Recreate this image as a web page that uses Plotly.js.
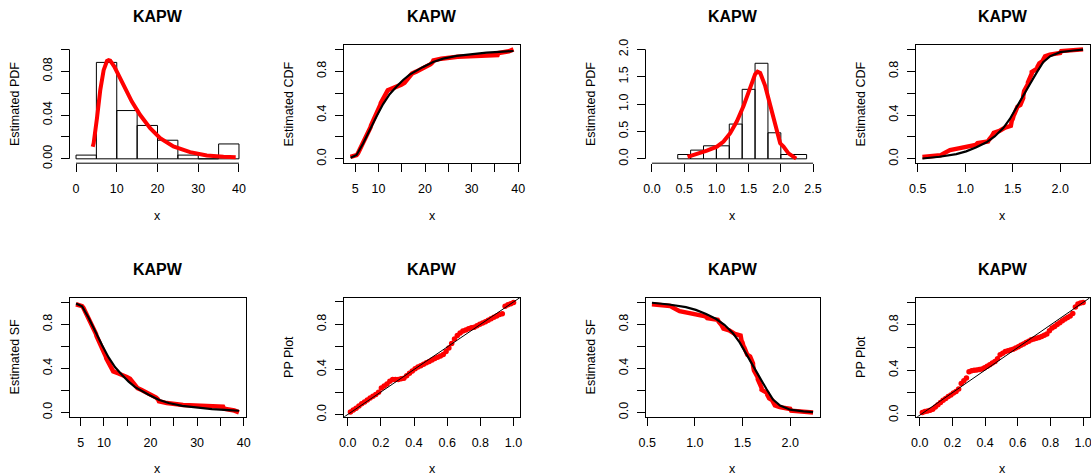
<!DOCTYPE html>
<html><head><meta charset="utf-8">
<script src="https://cdn.plot.ly/plotly-3.0.1.min.js"></script>
<style>html,body{margin:0;padding:0;background:#fff;} #chart{width:1091px;height:476px;}</style>
</head><body><div id="chart"></div>
<script>
// ---------------- DATA ----------------
// Dataset A (n = 59): histogram
const histABreaks = [0, 5, 10, 15, 20, 25, 30, 35, 40];
const histADensity = [0.0034, 0.0881, 0.0441, 0.0305, 0.0170, 0.0034, 0.0, 0.0136];
// fitted PDF curve (read)
const pdfAX = [4.1, 4.33, 5.14, 5.96, 6.78, 7.6, 8.0, 8.4, 9.4, 10.2, 11.7, 13.7, 15.75, 18.2, 20.65, 23.9, 28.0, 32.1, 36.2, 39.2];
const pdfAY = [0.0110, 0.0143, 0.0370, 0.0630, 0.0810, 0.0894, 0.0902, 0.0897, 0.0843, 0.0780, 0.0660, 0.0523, 0.0400, 0.0280, 0.0189, 0.0113, 0.0061, 0.0030, 0.0018, 0.0015];
// sorted observations and empirical CDF
const obsA = [4.0,5.3,5.6,5.8,6.1,6.3,6.5,6.7,6.9,7.1,7.3,7.4,7.6,7.8,8.0,8.2,8.3,8.4,8.6,8.8,8.9,9.1,9.2,9.4,9.6,9.8,10.0,10.2,10.4,10.5,10.7,10.9,11.1,11.2,11.4,11.7,12.0,13.0,14.2,14.9,15.6,15.9,16.2,16.5,16.8,17.2,18.1,19.0,19.8,20.5,21.2,21.6,21.8,23.5,27.0,35.6,35.8,38.0,39.0];
const ecdfA = [0.0169,0.0339,0.0508,0.0678,0.0847,0.1017,0.1186,0.1356,0.1525,0.1695,0.1864,0.2034,0.2203,0.2373,0.2542,0.2712,0.2881,0.3051,0.3220,0.3390,0.3559,0.3729,0.3898,0.4068,0.4237,0.4407,0.4576,0.4746,0.4915,0.5085,0.5254,0.5424,0.5593,0.5763,0.5932,0.6102,0.6271,0.6441,0.6610,0.6780,0.6949,0.7119,0.7288,0.7458,0.7627,0.7797,0.7966,0.8136,0.8305,0.8475,0.8644,0.8814,0.8983,0.9153,0.9322,0.9492,0.9661,0.9831,1.0];
// fitted CDF curve (read)
const cdfAX = [4.0, 5.3, 6.7, 8.15, 9.6, 11.0, 12.4, 13.9, 15.3, 16.7, 18.2, 19.6, 21.75, 23.9, 26.8, 29.6, 33.2, 36.8, 39.0];
const cdfAY = [0.010, 0.035, 0.140, 0.270, 0.390, 0.500, 0.590, 0.660, 0.720, 0.770, 0.810, 0.840, 0.885, 0.915, 0.940, 0.955, 0.970, 0.980, 0.985];
// PP plot: fitted CDF at each observation (read)
const ppAY = [0.022,0.040,0.056,0.077,0.096,0.112,0.129,0.146,0.162,0.178,0.197,0.235,0.253,0.271,0.296,0.311,0.311,0.312,0.317,0.323,0.344,0.367,0.387,0.406,0.422,0.434,0.446,0.459,0.472,0.484,0.497,0.509,0.521,0.534,0.560,0.590,0.632,0.670,0.703,0.724,0.741,0.751,0.761,0.770,0.775,0.788,0.801,0.814,0.825,0.837,0.850,0.863,0.875,0.888,0.895,0.962,0.975,0.985,0.995];

// Dataset G (n = 63): histogram
const histGBreaks = [0.4, 0.6, 0.8, 1.0, 1.2, 1.4, 1.6, 1.8, 2.0, 2.2, 2.4];
const histGDensity = [0.079, 0.159, 0.238, 0.238, 0.635, 1.270, 1.746, 0.476, 0.079, 0.079];
const pdfGX = [0.553, 0.698, 0.853, 1.008, 1.111, 1.214, 1.318, 1.421, 1.525, 1.602, 1.638, 1.680, 1.757, 1.835, 1.912, 1.990, 2.041, 2.119, 2.238];
const pdfGY = [0.037, 0.086, 0.148, 0.222, 0.315, 0.469, 0.685, 0.963, 1.302, 1.549, 1.593, 1.568, 1.333, 0.963, 0.593, 0.284, 0.222, 0.099, 0.005];
const obsG = [0.55,0.74,0.77,0.81,0.84,0.93,1.04,1.11,1.13,1.24,1.25,1.27,1.28,1.29,1.30,1.36,1.39,1.42,1.48,1.48,1.49,1.49,1.50,1.50,1.51,1.52,1.53,1.54,1.55,1.55,1.58,1.59,1.60,1.61,1.61,1.61,1.61,1.62,1.62,1.63,1.64,1.66,1.66,1.66,1.67,1.68,1.68,1.69,1.70,1.70,1.73,1.76,1.76,1.77,1.78,1.81,1.82,1.84,1.84,1.89,2.00,2.01,2.24];
const ecdfG = [0.0159,0.0317,0.0476,0.0635,0.0794,0.0952,0.1111,0.1270,0.1429,0.1587,0.1746,0.1905,0.2063,0.2222,0.2381,0.2540,0.2698,0.2857,0.3016,0.3175,0.3333,0.3492,0.3651,0.3810,0.3968,0.4127,0.4286,0.4444,0.4603,0.4762,0.4921,0.5079,0.5238,0.5397,0.5556,0.5714,0.5873,0.6032,0.6190,0.6349,0.6508,0.6667,0.6825,0.6984,0.7143,0.7302,0.7460,0.7619,0.7778,0.7937,0.8095,0.8254,0.8413,0.8571,0.8730,0.8889,0.9048,0.9206,0.9365,0.9524,0.9683,0.9841,1.0];
const cdfGX = [0.55, 0.73, 0.906, 1.01, 1.118, 1.224, 1.31, 1.40, 1.47, 1.54, 1.61, 1.68, 1.753, 1.82, 1.894, 2.0, 2.14, 2.24];
const cdfGY = [0.003, 0.019, 0.043, 0.068, 0.105, 0.151, 0.204, 0.281, 0.364, 0.466, 0.574, 0.682, 0.790, 0.883, 0.938, 0.975, 0.990, 0.997];
const ppGY = [0.025,0.034,0.038,0.045,0.054,0.072,0.092,0.113,0.133,0.149,0.165,0.180,0.196,0.210,0.232,0.281,0.305,0.330,0.385,0.395,0.398,0.400,0.405,0.409,0.420,0.435,0.448,0.462,0.477,0.500,0.535,0.550,0.565,0.572,0.578,0.585,0.596,0.608,0.620,0.632,0.644,0.656,0.668,0.676,0.682,0.688,0.697,0.709,0.720,0.749,0.772,0.786,0.804,0.820,0.838,0.852,0.866,0.880,0.902,0.960,0.985,0.995,1.000];
const diagLine = [-0.1, 1.1];

// tick values / labels
const t1x = [0,10,20,30,40], t1xl = ['0','10','20','30','40'];
const t1y = [0,0.02,0.04,0.06,0.08,0.10], t1yl = ['0.00','','0.04','','0.08',''];
const tAx = [5,10,15,20,25,30,35,40], tAxl = ['5','10','','20','','30','','40'];
const tPy = [0,0.2,0.4,0.6,0.8,1.0], tPyl = ['0.0','','0.4','','0.8',''];
const t3x = [0,0.5,1.0,1.5,2.0,2.5], t3xl = ['0.0','0.5','1.0','1.5','2.0','2.5'];
const t3y = [0,0.5,1.0,1.5,2.0], t3yl = ['0.0','0.5','1.0','1.5','2.0'];
const tGx = [0.5,1.0,1.5,2.0], tGxl = ['0.5','1.0','1.5','2.0'];
const tPPx = [0,0.2,0.4,0.6,0.8,1.0], tPPxl = ['0.0','0.2','0.4','0.6','0.8','1.0'];

// ---------------- LAYOUT ----------------
const W = 1091, H = 476;
const FONT = 'Liberation Sans, Arial, Helvetica, sans-serif';
const cols = [[69.5,245.5],[344,520],[645.5,819.5],[916,1089.5]];
const rows = [[45,163.2],[298,416.8]];
const RED = '#ff0000';

const traces = [];
const layout = {width:W, height:H, margin:{l:0,r:0,t:0,b:0}, paper_bgcolor:'#fff', plot_bgcolor:'#fff',
  showlegend:false, annotations:[], shapes:[], bargap:0};

function mids(b){ return b.slice(0,-1).map((v,i)=>(v+b[i+1])/2); }
function widths(b){ return b.slice(0,-1).map((v,i)=>b[i+1]-v); }

const panels = [
  {c:0,r:0, yt:'Estimated PDF', xr:[-1.6,41.6], yr:[-0.004,0.104], tx:t1x, txl:t1xl, ty:t1y, tyl:t1yl, box:false},
  {c:1,r:0, yt:'Estimated CDF', xr:[2.6,40.4], yr:[-0.04,1.04], tx:tAx, txl:tAxl, ty:tPy, tyl:tPyl, box:true},
  {c:2,r:0, yt:'Estimated PDF', xr:[-0.1,2.6], yr:[-0.08,2.08], tx:t3x, txl:t3xl, ty:t3y, tyl:t3yl, box:false},
  {c:3,r:0, yt:'Estimated CDF', xr:[0.4824,2.3076], yr:[-0.04,1.04], tx:tGx, txl:tGxl, ty:tPy, tyl:tPyl, box:true},
  {c:0,r:1, yt:'Estimated SF', xr:[2.6,40.4], yr:[-0.04,1.04], tx:tAx, txl:tAxl, ty:tPy, tyl:tPyl, box:true},
  {c:1,r:1, yt:'PP Plot', xr:[-0.022,1.039], yr:[-0.02,1.035], tx:tPPx, txl:tPPxl, ty:tPy, tyl:tPyl, box:true},
  {c:2,r:1, yt:'Estimated SF', xr:[0.4824,2.3076], yr:[-0.04,1.04], tx:tGx, txl:tGxl, ty:tPy, tyl:tPyl, box:true},
  {c:3,r:1, yt:'PP Plot', xr:[-0.023,1.039], yr:[-0.014,1.039], tx:tPPx, txl:tPPxl, ty:tPy, tyl:tPyl, box:true}
];

panels.forEach((p,i)=>{
  const n = i+1, sfx = n===1?'':String(n);
  const [L,R] = cols[p.c], [T,B] = rows[p.r];
  const common = {showgrid:false, zeroline:false, ticks:'outside', ticklen:8, tickwidth:1, tickcolor:'#000',
    tickfont:{family:FONT,size:12.5,color:'#000'}, fixedrange:true, tickmode:'array', ticklabeloverflow:'allow',
    showline:p.box, mirror:p.box, linecolor:'#000', linewidth:1};
  layout['xaxis'+sfx] = Object.assign({}, common, {domain:[L/W,R/W], range:p.xr, anchor:'y'+sfx,
    tickvals:p.tx, ticktext:p.txl, ticklabelstandoff:6});
  layout['yaxis'+sfx] = Object.assign({}, common, {domain:[1-B/H,1-T/H], range:p.yr, anchor:'x'+sfx,
    tickvals:p.ty, ticktext:p.tyl, tickangle:-90, ticklabelstandoff:4});
  if(!p.box){
    layout.shapes.push({type:'line', xref:'x'+sfx, yref:'y'+sfx+' domain', x0:p.tx[0], x1:p.tx[p.tx.length-1], y0:0, y1:0, line:{color:'#000',width:1}});
    layout.shapes.push({type:'line', xref:'x'+sfx+' domain', yref:'y'+sfx, x0:0, x1:0, y0:p.ty[0], y1:p.ty[p.ty.length-1], line:{color:'#000',width:1}});
  }
  const cx = (L+R)/2/W, cy = 1-(T+B)/2/H;
  layout.annotations.push({text:'<b>KAPW</b>', xref:'paper', yref:'paper', x:cx, y:1-(T-28.5)/H, xanchor:'center', yanchor:'middle', showarrow:false, font:{family:FONT,size:16,color:'#000'}});
  layout.annotations.push({text:'x', xref:'paper', yref:'paper', x:cx, y:1-(B+52.5)/H, xanchor:'center', yanchor:'middle', showarrow:false, font:{family:FONT,size:12.5,color:'#000'}});
  layout.annotations.push({text:p.yt, xref:'paper', yref:'paper', x:(L-54.5)/W, y:cy, xanchor:'center', yanchor:'middle', textangle:-90, showarrow:false, font:{family:FONT,size:12.5,color:'#000'}});
});

function ax(n){ return n===1?{xaxis:'x',yaxis:'y'}:{xaxis:'x'+n,yaxis:'y'+n}; }
const barStyle = {color:'rgba(0,0,0,0)', line:{color:'#000', width:1}};
const redLine = {color:RED, width:4.5};
const blackLine = {color:'#000', width:2.2};

// Panel 1
traces.push(Object.assign({type:'bar', x:mids(histABreaks), y:histADensity, width:widths(histABreaks), marker:barStyle, hoverinfo:'skip'}, ax(1)));
traces.push(Object.assign({type:'scatter', mode:'lines', x:pdfAX, y:pdfAY, line:{color:RED,width:4}}, ax(1)));
// Panel 2
traces.push(Object.assign({type:'scatter', mode:'lines', x:obsA, y:ecdfA, line:redLine}, ax(2)));
traces.push(Object.assign({type:'scatter', mode:'lines', x:cdfAX, y:cdfAY, line:blackLine}, ax(2)));
// Panel 3
traces.push(Object.assign({type:'bar', x:mids(histGBreaks), y:histGDensity, width:widths(histGBreaks), marker:barStyle, hoverinfo:'skip'}, ax(3)));
traces.push(Object.assign({type:'scatter', mode:'lines', x:pdfGX, y:pdfGY, line:{color:RED,width:4}}, ax(3)));
// Panel 4
traces.push(Object.assign({type:'scatter', mode:'lines', x:obsG, y:ecdfG, line:redLine}, ax(4)));
traces.push(Object.assign({type:'scatter', mode:'lines', x:cdfGX, y:cdfGY, line:blackLine}, ax(4)));
// Panel 5 (survival = 1 - CDF)
traces.push(Object.assign({type:'scatter', mode:'lines', x:obsA, y:ecdfA.map(v=>1-v), line:redLine}, ax(5)));
traces.push(Object.assign({type:'scatter', mode:'lines', x:cdfAX, y:cdfAY.map(v=>1-v), line:blackLine}, ax(5)));
// Panel 6
traces.push(Object.assign({type:'scatter', mode:'markers', x:ecdfA, y:ppAY, marker:{color:RED,size:5.5}}, ax(6)));
traces.push(Object.assign({type:'scatter', mode:'lines', x:diagLine, y:diagLine, line:{color:'#000',width:1}}, ax(6)));
// Panel 7
traces.push(Object.assign({type:'scatter', mode:'lines', x:obsG, y:ecdfG.map(v=>1-v), line:redLine}, ax(7)));
traces.push(Object.assign({type:'scatter', mode:'lines', x:cdfGX, y:cdfGY.map(v=>1-v), line:blackLine}, ax(7)));
// Panel 8
traces.push(Object.assign({type:'scatter', mode:'markers', x:ecdfG, y:ppGY, marker:{color:RED,size:5.5}}, ax(8)));
traces.push(Object.assign({type:'scatter', mode:'lines', x:diagLine, y:diagLine, line:{color:'#000',width:1}}, ax(8)));

Plotly.newPlot('chart', traces, layout, {displayModeBar:false, staticPlot:true});
</script>
</body></html>
